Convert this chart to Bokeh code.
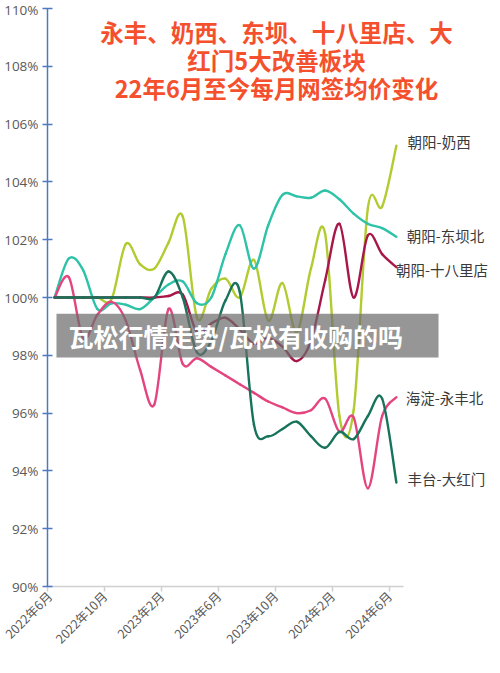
import math
import numpy as np
from bokeh.plotting import figure
from bokeh.models import FixedTicker, PrintfTickFormatter, BoxAnnotation, Label
from bokeh.embed import file_html
from bokeh.resources import INLINE

# ---- data (monthly index, 100% = 2022-06) ----
months = ["2022-06", "2022-07", "2022-08", "2022-09", "2022-10", "2022-11", "2022-12",
          "2023-01", "2023-02", "2023-03", "2023-04", "2023-05", "2023-06", "2023-07",
          "2023-08", "2023-09", "2023-10", "2023-11", "2023-12", "2024-01", "2024-02",
          "2024-03", "2024-04", "2024-05", "2024-06"]

naixi = [100, 100, 100, 100, 99.95, 101.85, 101.15, 101.0, 101.9, 102.8, 99.3, 100.3, 100.65,
         100.0, 101.3, 99.2, 100.5, 98.8, 101.0, 102.2, 95.9, 96.1, 103.1, 103.15, 105.25]
dongba = [100, 101.35, 100.95, 99.6, 99.8, 99.75, 99.6, 100.0, 100.45, 100.55, 99.8, 100.0, 101.5,
          102.5, 101.0, 102.5, 103.55, 103.5, 103.45, 103.7, 103.4, 102.9, 102.55, 102.4, 102.1]
shibali = [100, 100, 100, 100, 100, 100, 100, 100.0, 100.05, 100.1, 98.8, 99.1, 99.3,
           98.9, 98.4, 98.6, 98.3, 97.8, 98.5, 100.6, 102.55, 100.0, 102.15, 101.5, 101.05]
yongfeng = [100, 100.7, 98.6, 99.4, 99.85, 99.2, 97.5, 96.3, 99.6, 97.7, 97.9, 97.6, 97.3,
            97.0, 96.7, 96.4, 96.2, 96.0, 96.1, 96.5, 95.35, 95.85, 93.4, 95.9, 96.55]
dahongmen = [100, 100, 100, 100, 100, 100, 100, 100, 100.9, 100.0, 98.1, 98.5, 99.9,
             100.2, 95.6, 95.2, 95.45, 95.7, 95.2, 94.8, 95.35, 95.1, 95.9, 96.5, 93.6]

series_names = ["朝阳-奶西", "朝阳-东坝北", "海淀-永丰北", "朝阳-十八里店", "丰台-大红门"]
series_values = [naixi, dongba, yongfeng, shibali, dahongmen]
series_colors = ["#B2CB30", "#2EC2A8", "#E5457F", "#A8174A", "#17735A"]

x_tick_values = [-0.5, 3.5, 7.5, 11.5, 15.5, 19.5, 23.5]
x_tick_labels = ["2022年6月", "2022年10月", "2023年2月", "2023年6月", "2023年10月", "2024年2月", "2024年6月"]
y_ticks = list(range(90, 111, 2))

title_lines = ["永丰、奶西、东坝、十八里店、大", "红门5大改善板块", "22年6月至今每月网签均价变化"]
watermark = "瓦松行情走势/瓦松有收购的吗"

# ---- figure ----
p = figure(width=490, height=657, x_range=(-0.5, 30.61), y_range=(90, 110),
           output_backend="svg", toolbar_location=None,
           min_border_left=47, min_border_right=0, min_border_top=8, min_border_bottom=66)
p.background_fill_color = "white"
p.border_fill_color = "white"
p.outline_line_color = None
p.xgrid.visible = False
p.ygrid.visible = False

yax = p.yaxis[0]
yax.ticker = FixedTicker(ticks=y_ticks)
yax.formatter = PrintfTickFormatter(format="%d%%")
yax.axis_line_color = "#4E79C1"
yax.axis_line_width = 1.5
yax.major_tick_line_color = "#4E79C1"
yax.major_tick_line_width = 1.5
yax.major_tick_in = 5
yax.major_tick_out = 5
yax.minor_tick_line_color = None
yax.major_label_standoff = 4
yax.major_label_text_color = "#595959"
yax.major_label_text_font = "Open Sans"
yax.major_label_text_font_size = "13.5px"
yax.bounds = (90, 110)

xax = p.xaxis[0]
xax.ticker = FixedTicker(ticks=x_tick_values)
xax.major_label_overrides = {v: s for v, s in zip(x_tick_values, x_tick_labels)}
xax.bounds = (-0.5, 24.5)
xax.axis_line_color = "#D0D0D0"
xax.axis_line_width = 1.5
xax.major_tick_line_color = "#D0D0D0"
xax.major_tick_line_width = 1.5
xax.major_tick_in = 0
xax.major_tick_out = 5
xax.minor_tick_line_color = None
xax.major_label_orientation = math.pi / 4
xax.major_label_standoff = 2
xax.major_label_text_color = "#595959"
xax.major_label_text_font = "Noto Sans CJK SC"
xax.major_label_text_font_size = "12.5px"


def smooth_segments(xs, ys):
    x = np.asarray(xs, float)
    y = np.asarray(ys, float)
    n = len(x)
    xp = np.concatenate([[x[0]], x, [x[-1]]])
    yp = np.concatenate([[y[0]], y, [y[-1]]])
    return dict(
        x0=xp[1:n], y0=yp[1:n], x1=xp[2:n + 1], y1=yp[2:n + 1],
        cx0=xp[1:n] + (xp[2:n + 1] - xp[0:n - 1]) / 6.0,
        cy0=yp[1:n] + (yp[2:n + 1] - yp[0:n - 1]) / 6.0,
        cx1=xp[2:n + 1] - (xp[3:n + 2] - xp[1:n]) / 6.0,
        cy1=yp[2:n + 1] - (yp[3:n + 2] - yp[1:n]) / 6.0,
    )


xs = np.arange(len(months))
for vals, col in zip(series_values, series_colors):
    s = smooth_segments(xs, vals)
    p.bezier(x0=s["x0"], y0=s["y0"], x1=s["x1"], y1=s["y1"],
             cx0=s["cx0"], cy0=s["cy0"], cx1=s["cx1"], cy1=s["cy1"],
             line_color=col, line_width=2.4, line_cap="round")

# series labels at right
label_pos = {
    "朝阳-奶西": (24.79, 105.39),
    "朝阳-东坝北": (24.72, 102.13),
    "朝阳-十八里店": (23.98, 100.96),
    "海淀-永丰北": (24.65, 96.54),
    "丰台-大红门": (24.79, 93.72),
}
for name in series_names:
    lx, ly = label_pos[name]
    p.add_layout(Label(x=lx, y=ly, text=name, text_align="left", text_baseline="middle",
                       text_font="Noto Sans CJK SC", text_font_size="14.5px", text_color="#3A3A3A"))

# title
title_y = [109.20, 108.23, 107.26]
for t, ty in zip(title_lines, title_y):
    p.add_layout(Label(x=15.58, y=ty, text=t, text_align="center", text_baseline="middle",
                       text_font="Noto Sans CJK SC", text_font_style="bold",
                       text_font_size="23.5px", text_color="#F5502D"))

# watermark band
p.add_layout(BoxAnnotation(left=0.13, right=26.96, bottom=97.92, top=99.44,
                           fill_color="#6E6E6E", fill_alpha=0.72, line_color=None))
p.add_layout(Label(x=0.97, y=98.68, text=watermark, text_align="left", text_baseline="middle",
                   text_font="Noto Sans CJK SC", text_font_style="bold",
                   text_font_size="25px", text_color="white"))

open("out.html", "w").write(file_html(p, INLINE))
